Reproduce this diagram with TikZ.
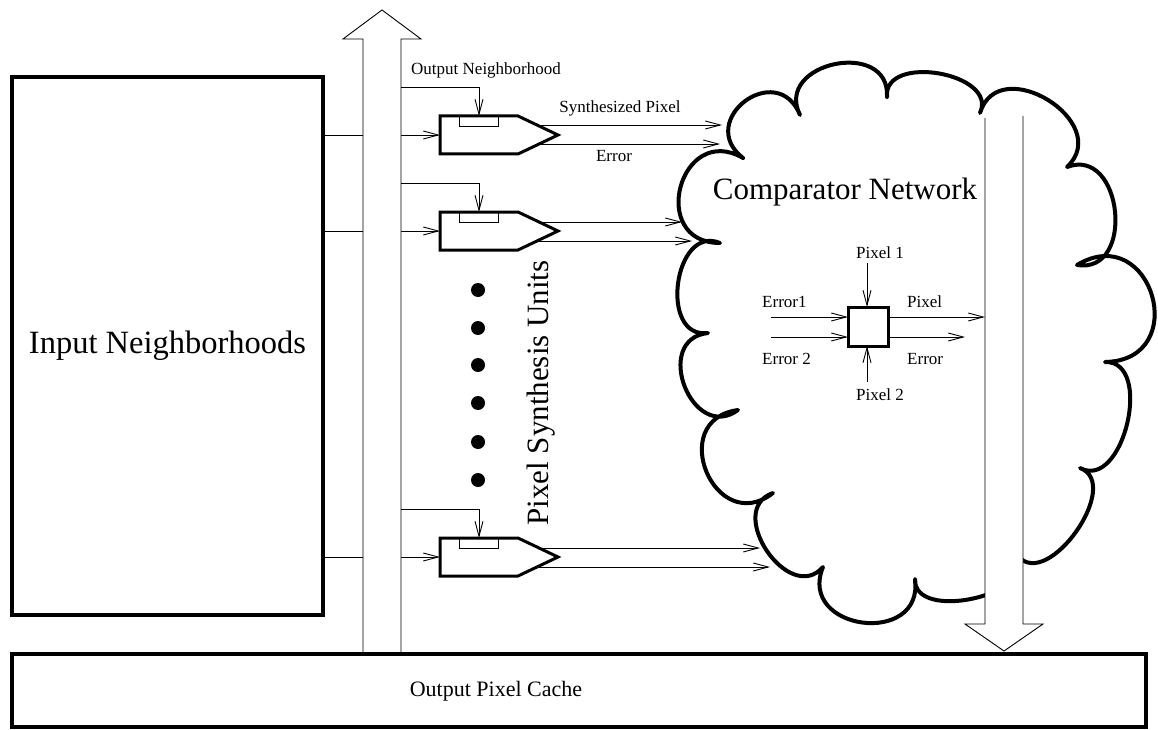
\documentclass[tikz,border=0pt]{standalone}
\usepackage{fontspec}
\setmainfont{Liberation Serif}
\usetikzlibrary{arrows.meta,calc}
\begin{document}
\begin{tikzpicture}[x=1pt,y=-1pt,
  thinline/.style={line width=0.9pt},
  thickbox/.style={draw, line width=4pt, inner sep=0pt, outer sep=0pt},
  arr/.style={line width=0.9pt, -{Straight Barb[length=15pt,width=8pt,line width=0.9pt]}},
  big/.style={font=\fontsize{31}{36}\selectfont},
  small/.style={font=\fontsize{17}{20}\selectfont, inner sep=0pt},
  cloudline/.style={line width=4pt, line join=round, line cap=round},
  unitbox/.style={minimum width=118pt, minimum height=38pt, inner sep=0pt, outer sep=0pt},
  unitshape/.style={line width=3pt, line join=miter},
  holl/.style={line width=0.9pt, fill=white},
]
\useasboundingbox (0,0) rectangle (1158,730);

% input neighborhoods box
\node[thickbox, font=\fontsize{32.5}{38}\selectfont, minimum width=311pt, minimum height=538pt] (inbox) at (167.5,346) {Input Neighborhoods};

% pixel synthesis units (placeholders)
\node[unitbox] (u1) at (499,135) {};
\node[unitbox] (u2) at (499,231) {};
\node[unitbox] (u3) at (499,557) {};

% input lines (pass behind the hollow arrow)
\foreach \u in {u1,u2,u3}{
  \draw[arr] (inbox.east |- \u.west) -- (\u.west);
}

% up hollow arrow
\coordinate (upbase) at (382,653);
\draw[holl] (363,653) -- (363,39) -- (343,39) -- (382,10) -- (421,39) -- (401,39) -- (401,653);

% unit shapes
\foreach \u in {u1,u2,u3}{
  \draw[unitshape] (\u.north west) -- ($(\u.north east)+(-40,0)$) -- (\u.east) -- ($(\u.south east)+(-40,0)$) -- (\u.south west) -- cycle;
  \draw[thinline] ($(\u.north west)+(19,0)$) rectangle ($(\u.north west)+(58,10)$);
}

% output neighborhood feeds
\coordinate (n1) at (401,87);
\coordinate (n2) at (401,183);
\coordinate (n3) at (401,509);
\draw[arr] (n1) -| ($(u1.north west)+(39,0)$);
\draw[arr] (n2) -| ($(u2.north west)+(39,0)$);
\draw[arr] (n3) -| ($(u3.north west)+(39,0)$);

% unit outputs
\coordinate (s1) at (722,125); \coordinate (e1) at (720,144);
\coordinate (s2) at (682,222); \coordinate (e2) at (692,241);
\coordinate (s3) at (760,548); \coordinate (e3) at (770,567);
\draw[arr] ($(u1.east)+(-21,-10)$) -- (s1);
\draw[arr] ($(u1.east)+(-19,9)$) -- (e1);
\draw[arr] ($(u2.east)+(-19,-9)$) -- (s2);
\draw[arr] ($(u2.east)+(-21,10)$) -- (e2);
\draw[arr] ($(u3.east)+(-19,-9)$) -- (s3);
\draw[arr] ($(u3.east)+(-21,10)$) -- (e3);

% labels near unit 1
\node[small, anchor=west] (onlabel) at (411,70) {Output Neighborhood};
\node[small] (splabel) at (620,108) {Synthesized Pixel};
\node[small] (errlabel) at (614,156) {Error};

% dots
\foreach \y in {290,328,365,403,442,480}{
  \fill (478,\y) circle (7pt);
}
\node[big, rotate=90] (psu) at (541,393) {Pixel Synthesis Units};

% cloud
\draw[cloudline]
  (743,158) to[bend left=105, looseness=2.19] (800,115)
  to[bend left=105, looseness=1.70] (887,97)
  to[bend left=105, looseness=1.20] (980,113)
  to[bend left=105, looseness=1.62] (1067,167)
  to[bend left=105, looseness=1.55] (1077,265)
  to[bend left=105, looseness=2.22] (1105,362)
  to[bend left=105, looseness=1.16] (1080,468)
  to[bend left=105, looseness=1.10] (1018,556)
  to[bend left=105, looseness=1.06] (915,579)
  to[bend left=105, looseness=1.90] (823,567)
  to[bend left=105, looseness=1.48] (773,493)
  to[bend left=105, looseness=2.08] (738,410)
  to[bend left=105, looseness=1.76] (708,333)
  to[bend left=105, looseness=1.41] (720,243)
  to[bend left=105, looseness=2.12] (743,158);
\node[big] (cnlabel) at (845,192) {Comparator Network};

% down hollow arrow
\draw[holl] (985,118) -- (985,624) -- (965,624) -- (1004,651) -- (1043,624) -- (1023,624) -- (1023,116);

% comparator element
\node[draw, line width=3pt, minimum width=40pt, minimum height=39pt, inner sep=0pt, outer sep=0pt] (cmp) at (868,326.5) {};
\coordinate (e1in) at (771,317);
\coordinate (e2in) at (771,337);
\coordinate (pxo) at (985,317);
\coordinate (ero) at (965,337);
\coordinate (p1) at (867,263);
\coordinate (p2) at (867,382);
\draw[arr] (e1in) -- (cmp.west |- e1in);
\draw[arr] (e2in) -- (cmp.west |- e2in);
\draw[arr] (cmp.east |- pxo) -- (pxo);
\draw[arr] (cmp.east |- ero) -- (ero);
\draw[arr] (p1) -- (p1 |- cmp.north);
\draw[arr] (p2) -- (p2 |- cmp.south);
\node[small, anchor=west] (le1) at (762,302) {Error1};
\node[small, anchor=west] (le2) at (762,359) {Error 2};
\node[small, anchor=west] (lpx) at (907,302) {Pixel};
\node[small, anchor=west] (ler) at (907,359) {Error};
\node[small] (lp1) at (880,253) {Pixel 1};
\node[small] (lp2) at (880,395) {Pixel 2};

% output pixel cache
\node[thickbox, minimum width=1134pt, minimum height=73pt] (cache) at (579,690) {};
\node[font=\fontsize{22}{26}\selectfont] (cachelabel) at (496,691) {Output Pixel Cache};
\end{tikzpicture}
\end{document}
